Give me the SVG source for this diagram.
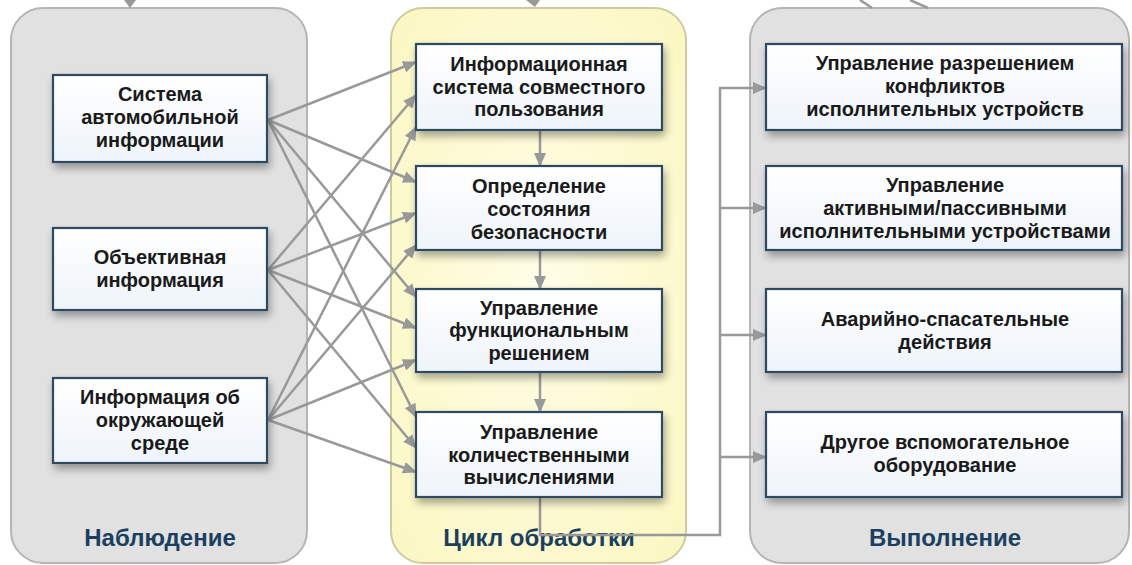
<svg xmlns="http://www.w3.org/2000/svg" width="1132" height="565" viewBox="0 0 1132 565">
<defs>
<style>
.panel-g{fill:#e1e1e1;stroke:#b5b5b5;stroke-width:2}
.panel-y{fill:url(#yel);stroke:#cfcba0;stroke-width:2}
.box{fill:url(#boxg);stroke:#2f4a60;stroke-width:2.2;filter:url(#sh)}
.t{font-family:"Liberation Sans",Arial,sans-serif;font-weight:bold;font-size:20px;fill:#1a1a1a;text-anchor:middle}
.lbl{font-family:"Liberation Sans",Arial,sans-serif;font-weight:bold;font-size:24px;fill:#1b3f5e;text-anchor:middle}
.c{fill:none;stroke:#999999;stroke-width:2.5}
.ca{fill:none;stroke:#999999;stroke-width:2.5;marker-end:url(#ah)}
</style>
<linearGradient id="boxg" x1="0" y1="0" x2="0" y2="1">
<stop offset="0" stop-color="#ffffff"/>
<stop offset="1" stop-color="#eef4fa"/>
</linearGradient>
<radialGradient id="yel" cx="0.5" cy="0.5" r="0.7">
<stop offset="0" stop-color="#fffde6"/>
<stop offset="1" stop-color="#fbf7c2"/>
</radialGradient>
<filter id="sh" x="-10%" y="-10%" width="125%" height="135%">
<feGaussianBlur in="SourceAlpha" stdDeviation="4"/>
<feOffset dx="2" dy="5" result="b"/>
<feComponentTransfer><feFuncA type="linear" slope="0.35"/></feComponentTransfer>
<feMerge><feMergeNode/><feMergeNode in="SourceGraphic"/></feMerge>
</filter>
<marker id="ah" markerWidth="14" markerHeight="12" refX="13" refY="6" orient="auto" markerUnits="userSpaceOnUse">
<path d="M0,0 L14,6 L0,12 Z" fill="#999999"/>
</marker>
</defs>
<rect width="1132" height="565" fill="#ffffff"/>

<g id="panel-observe">
<rect class="panel-g" x="11" y="8" width="296" height="555" rx="32"/>
<text class="lbl" x="160" y="546">Наблюдение</text>
</g>
<g id="panel-cycle">
<rect class="panel-y" x="391" y="8" width="295" height="555" rx="32"/>
<text class="lbl" x="539" y="546">Цикл обработки</text>
</g>
<g id="panel-exec">
<rect class="panel-g" x="750" y="8" width="379" height="555" rx="32"/>
<text class="lbl" x="945" y="546">Выполнение</text>
</g>

<g id="top-fragments">
<path d="M124,0 L136,0 L130,8 Z" fill="#999999"/>
<path d="M526,0 L540,0 L535,7 Z" fill="#999999"/>
<line class="c" x1="860" y1="0" x2="872" y2="8"/>
<line class="c" x1="910" y1="0" x2="928" y2="8"/>
</g>

<g id="connectors">
<line class="ca" x1="268" y1="120" x2="416" y2="62"/>
<line class="ca" x1="268" y1="120" x2="416" y2="182"/>
<line class="ca" x1="268" y1="120" x2="416" y2="297"/>
<line class="ca" x1="268" y1="120" x2="416" y2="417"/>
<line class="ca" x1="268" y1="270" x2="416" y2="95"/>
<line class="ca" x1="268" y1="270" x2="416" y2="213"/>
<line class="ca" x1="268" y1="270" x2="416" y2="328"/>
<line class="ca" x1="268" y1="270" x2="416" y2="448"/>
<line class="ca" x1="268" y1="420" x2="416" y2="127"/>
<line class="ca" x1="268" y1="420" x2="416" y2="245"/>
<line class="ca" x1="268" y1="420" x2="416" y2="360"/>
<line class="ca" x1="268" y1="420" x2="416" y2="472"/>
<line class="ca" x1="540" y1="131" x2="540" y2="166"/>
<line class="ca" x1="540" y1="251" x2="540" y2="289"/>
<line class="ca" x1="540" y1="373" x2="540" y2="412"/>
<path class="c" d="M540,498 V535 H720 V88"/>
<line class="ca" x1="719" y1="88" x2="766" y2="88"/>
<line class="ca" x1="719" y1="208" x2="766" y2="208"/>
<line class="ca" x1="719" y1="335" x2="766" y2="335"/>
<line class="ca" x1="719" y1="457" x2="766" y2="457"/>
</g>

<g id="node-car">
<rect class="box" x="53" y="75" width="214" height="87"/>
<text class="t" x="160" y="101">Система</text>
<text class="t" x="160" y="124">автомобильной</text>
<text class="t" x="160" y="147">информации</text>
</g>
<g id="node-objective">
<rect class="box" x="53" y="228" width="214" height="82"/>
<text class="t" x="160" y="264">Объективная</text>
<text class="t" x="160" y="287">информация</text>
</g>
<g id="node-env">
<rect class="box" x="53" y="378" width="214" height="85"/>
<text class="t" x="160" y="404">Информация об</text>
<text class="t" x="160" y="427">окружающей</text>
<text class="t" x="160" y="450">среде</text>
</g>

<g id="node-shared">
<rect class="box" x="416" y="44" width="246" height="86"/>
<text class="t" x="539" y="71">Информационная</text>
<text class="t" x="539" y="94">система совместного</text>
<text class="t" x="539" y="116">пользования</text>
</g>
<g id="node-safety">
<rect class="box" x="416" y="166" width="246" height="84"/>
<text class="t" x="539" y="193">Определение</text>
<text class="t" x="539" y="216">состояния</text>
<text class="t" x="539" y="239">безопасности</text>
</g>
<g id="node-func">
<rect class="box" x="416" y="289" width="246" height="83"/>
<text class="t" x="539" y="315">Управление</text>
<text class="t" x="539" y="337">функциональным</text>
<text class="t" x="539" y="360">решением</text>
</g>
<g id="node-quant">
<rect class="box" x="416" y="412" width="246" height="85"/>
<text class="t" x="539" y="439">Управление</text>
<text class="t" x="539" y="462">количественными</text>
<text class="t" x="539" y="484">вычислениями</text>
</g>

<g id="node-conflict">
<rect class="box" x="766" y="44" width="356" height="86"/>
<text class="t" x="945" y="70">Управление разрешением</text>
<text class="t" x="945" y="93">конфликтов</text>
<text class="t" x="945" y="116">исполнительных устройств</text>
</g>
<g id="node-actpas">
<rect class="box" x="766" y="166" width="356" height="84"/>
<text class="t" x="945" y="192">Управление</text>
<text class="t" x="945" y="215">активными/пассивными</text>
<text class="t" x="945" y="238">исполнительными устройствами</text>
</g>
<g id="node-rescue">
<rect class="box" x="766" y="289" width="356" height="83"/>
<text class="t" x="945" y="326">Аварийно-спасательные</text>
<text class="t" x="945" y="349">действия</text>
</g>
<g id="node-other">
<rect class="box" x="766" y="412" width="356" height="85"/>
<text class="t" x="945" y="449">Другое вспомогательное</text>
<text class="t" x="945" y="472">оборудование</text>
</g>
</svg>
